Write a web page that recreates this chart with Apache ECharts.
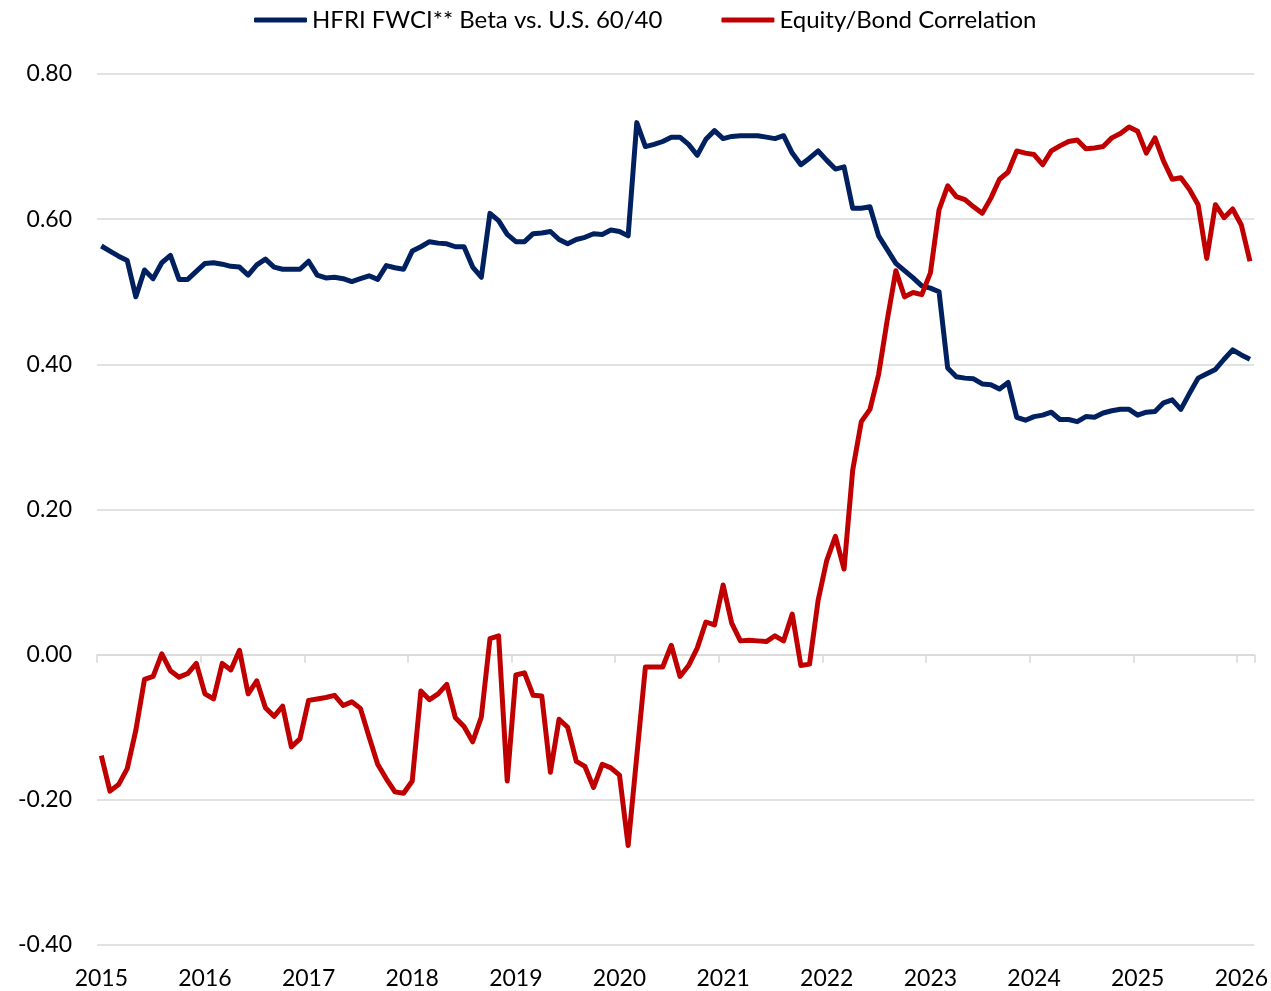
<!DOCTYPE html>
<html>
<head>
<meta charset="utf-8">
<script src="https://cdn.jsdelivr.net/npm/echarts@6/dist/echarts.min.js"></script>
<style>
  html, body { margin: 0; padding: 0; background: #fff; }
  #main { width: 1271px; height: 991px; }
</style>
</head>
<body>
<div id="main"></div>
<script>
// year tick labels; data is monthly, Jan 2015 .. Feb 2026
var years = ['2015','2016','2017','2018','2019','2020','2021','2022','2023','2024','2025','2026'];
var lastMonth = 2; // Feb 2026

// HFRI FWCI** Beta vs. U.S. 60/40
var beta = [
  0.563, 0.556, 0.549, 0.543, 0.493, 0.530, 0.518, 0.540, 0.550, 0.517, 0.517, 0.528,  // 2015
  0.539, 0.540, 0.538, 0.535, 0.534, 0.523, 0.537, 0.545, 0.534, 0.531, 0.531, 0.531,  // 2016
  0.542, 0.523, 0.519, 0.520, 0.518, 0.514, 0.518, 0.522, 0.517, 0.536, 0.533, 0.531,  // 2017
  0.556, 0.562, 0.569, 0.567, 0.566, 0.562, 0.562, 0.534, 0.520, 0.608, 0.598, 0.579,  // 2018
  0.569, 0.569, 0.580, 0.581, 0.583, 0.572, 0.566, 0.572, 0.575, 0.580, 0.579, 0.585,  // 2019
  0.583, 0.577, 0.733, 0.700, 0.703, 0.707, 0.713, 0.713, 0.703, 0.688, 0.710, 0.722,  // 2020
  0.711, 0.714, 0.715, 0.715, 0.715, 0.713, 0.711, 0.715, 0.691, 0.675, 0.684, 0.694,  // 2021
  0.681, 0.669, 0.672, 0.615, 0.615, 0.617, 0.577, 0.558, 0.539, 0.529, 0.519, 0.508,  // 2022
  0.505, 0.500, 0.395, 0.383, 0.381, 0.380, 0.373, 0.372, 0.366, 0.375, 0.327, 0.323,  // 2023
  0.328, 0.330, 0.334, 0.324, 0.324, 0.321, 0.328, 0.327, 0.333, 0.336, 0.338, 0.338,  // 2024
  0.330, 0.334, 0.335, 0.347, 0.351, 0.338, 0.360, 0.381, 0.387, 0.393, 0.407, 0.420,  // 2025
  0.413, 0.407                                                                          // 2026
];

// Equity/Bond Correlation
var corr = [
  -0.139, -0.188, -0.179, -0.157, -0.104, -0.034, -0.030,  0.001, -0.022, -0.031, -0.026, -0.012,  // 2015
  -0.054, -0.061, -0.012, -0.021,  0.006, -0.054, -0.036, -0.073, -0.085, -0.071, -0.127, -0.116,  // 2016
  -0.063, -0.061, -0.059, -0.056, -0.070, -0.065, -0.074, -0.113, -0.151, -0.171, -0.189, -0.191,  // 2017
  -0.174, -0.050, -0.062, -0.054, -0.041, -0.087, -0.099, -0.120, -0.086,  0.022,  0.026, -0.174,  // 2018
  -0.028, -0.025, -0.056, -0.057, -0.162, -0.089, -0.100, -0.147, -0.154, -0.183, -0.151, -0.156,  // 2019
  -0.166, -0.263, -0.140, -0.017, -0.017, -0.017,  0.013, -0.030, -0.015,  0.009,  0.045,  0.041,  // 2020
   0.096,  0.043,  0.019,  0.020,  0.019,  0.018,  0.026,  0.019,  0.056, -0.015, -0.013,  0.075,  // 2021
   0.130,  0.163,  0.118,  0.254,  0.321,  0.338,  0.386,  0.461,  0.529,  0.493,  0.499,  0.496,  // 2022
   0.526,  0.613,  0.646,  0.631,  0.627,  0.617,  0.608,  0.629,  0.655,  0.665,  0.694,  0.691,  // 2023
   0.689,  0.675,  0.694,  0.701,  0.707,  0.709,  0.697,  0.698,  0.700,  0.712,  0.718,  0.727,  // 2024
   0.721,  0.691,  0.712,  0.680,  0.655,  0.657,  0.641,  0.620,  0.546,  0.620,  0.602,  0.614,  // 2025
   0.592,  0.542                                                                                    // 2026
];

var yTicks = { min: -0.4, max: 0.8, step: 0.2 };

var months = [];
for (var yi = 0; yi < years.length; yi++) {
  var n = (yi === years.length - 1) ? lastMonth : 12;
  for (var mi = 1; mi <= n; mi++) months.push(years[yi] + '-' + (mi < 10 ? '0' + mi : mi));
}

var isJan = function (idx) { return idx % 12 === 0; };
var gridColor = '#d9d9d9';
var fontFam = 'Lato, "Open Sans", sans-serif';

var myChart = echarts.init(document.getElementById('main'), null, { renderer: 'canvas' });
var option = {
  animation: false,
  backgroundColor: '#fff',
  textStyle: { fontFamily: fontFam },
  legend: {
    top: 3,
    left: 249,
    itemWidth: 53,
    itemHeight: 5,
    itemGap: 59,
    icon: 'roundRect',
    textStyle: { fontSize: 24, color: '#000', fontFamily: fontFam },
    data: ['HFRI FWCI** Beta vs. U.S. 60/40', 'Equity/Bond Correlation']
  },
  grid: { left: 97, right: 16.5, top: 74, bottom: 46 },
  xAxis: [
    {
      type: 'category',
      data: months,
      boundaryGap: true,
      axisLine: { onZero: true, lineStyle: { color: gridColor, width: 1.5 } },
      axisTick: { show: true, interval: isJan, length: 8, lineStyle: { color: gridColor, width: 1.5 } },
      axisLabel: { show: false }
    },
    {
      type: 'category',
      data: months,
      position: 'bottom',
      boundaryGap: true,
      axisLine: { show: false, onZero: false },
      axisTick: { show: false },
      axisLabel: {
        interval: isJan,
        margin: 22,
        fontSize: 23,
        color: '#000',
        fontFamily: fontFam,
        formatter: function (v) { return v.slice(0, 4); }
      }
    }
  ],
  yAxis: {
    type: 'value',
    min: yTicks.min,
    max: yTicks.max,
    interval: yTicks.step,
    axisLine: { show: false },
    axisTick: { show: false },
    splitLine: { lineStyle: { color: gridColor, width: 1.5 } },
    axisLabel: {
      margin: 25,
      fontSize: 23,
      color: '#000',
      fontFamily: fontFam,
      formatter: function (v) { return (Math.round(v * 100) / 100).toFixed(2); }
    }
  },
  series: [
    {
      name: 'HFRI FWCI** Beta vs. U.S. 60/40',
      type: 'line',
      data: beta,
      showSymbol: false,
      symbol: 'none',
      lineStyle: { color: '#002060', width: 5, join: 'round' },
      itemStyle: { color: '#002060' }
    },
    {
      name: 'Equity/Bond Correlation',
      type: 'line',
      data: corr,
      showSymbol: false,
      symbol: 'none',
      lineStyle: { color: '#C00000', width: 5, join: 'round' },
      itemStyle: { color: '#C00000' }
    }
  ]
};
myChart.setOption(option);
</script>
</body>
</html>
